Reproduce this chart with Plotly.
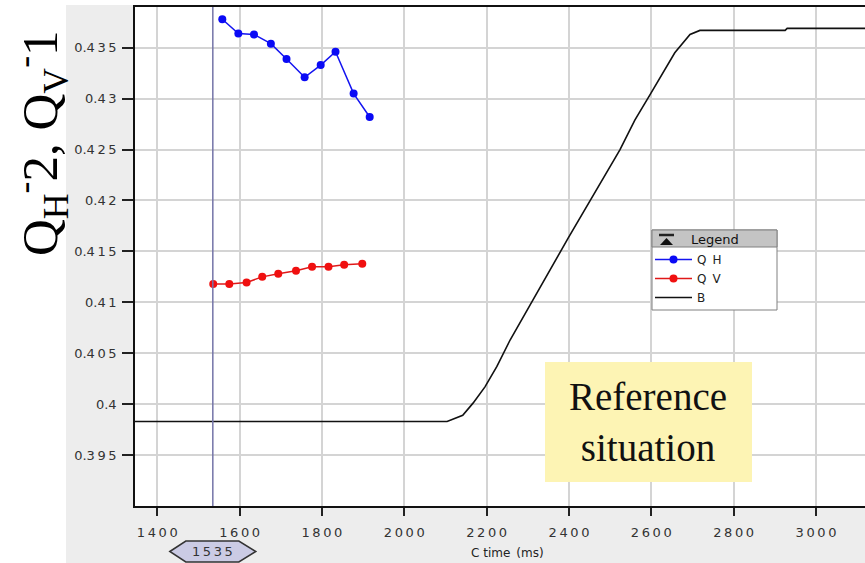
import plotly.graph_objects as go

# Measured series
qh_time = [1558, 1597, 1635, 1676, 1714, 1758, 1797, 1833, 1877, 1916]
qh_val = [0.4378, 0.4364, 0.4363, 0.4354, 0.4339, 0.4321, 0.4333, 0.4346, 0.4305, 0.4282]

qv_time = [1536, 1575, 1617, 1655, 1694, 1737, 1776, 1816, 1854, 1898]
qv_val = [0.4118, 0.4118, 0.41195, 0.4125, 0.4128, 0.4131, 0.4135, 0.4135, 0.4137, 0.4138]

b_time = [1346, 2104, 2142, 2167, 2196, 2225, 2257, 2398, 2524, 2560, 2597, 2657, 2694, 2718, 2925, 2930, 3119]
b_val = [0.3983, 0.3983, 0.3989, 0.4001, 0.4017, 0.4037, 0.4063, 0.4163, 0.4250, 0.4279, 0.4304, 0.4345,
         0.4363, 0.4367, 0.4367, 0.4369, 0.4369]

cursor_time = 1535

x_ticks = [1400, 1600, 1800, 2000, 2200, 2400, 2600, 2800, 3000]
y_ticks = [0.395, 0.4, 0.405, 0.41, 0.415, 0.42, 0.425, 0.43, 0.435]
y_tick_text = ["0.395", "0.4", "0.405", "0.41", "0.415", "0.42", "0.425", "0.43", "0.435"]

W, H = 865, 563
L, R, T, B = 135, 0, 7, 57
PW, PH = W - L - R, H - T - B

THIN = "\u2009"


def spaced(s):
    # the chart's pixel font is letter-spaced; mimic with thin spaces between digits
    out = ""
    for i, ch in enumerate(s):
        out += ch
        if i < len(s) - 1 and ch.isdigit() and s[i + 1].isdigit():
            out += THIN
    return out


def px(x):
    return (x - L) / PW


def py(y):
    return (H - B - y) / PH


tick_font = dict(family="DejaVu Sans", size=13, color="#333333")

fig = go.Figure()
fig.add_trace(go.Scatter(x=qh_time, y=qh_val, name="Q\u2002H", mode="lines+markers",
                         line=dict(color="#1414f0", width=1.5),
                         marker=dict(color="#0a0af5", size=8)))
fig.add_trace(go.Scatter(x=qv_time, y=qv_val, name="Q\u2002V", mode="lines+markers",
                         line=dict(color="#e01818", width=1.5),
                         marker=dict(color="#f01010", size=8)))
fig.add_trace(go.Scatter(x=b_time, y=b_val, name="B", mode="lines",
                         line=dict(color="#111111", width=1.6)))

shapes = [
    # white strips outside the grey panel
    dict(type="rect", xref="paper", yref="paper", x0=px(-5), x1=px(66), y0=py(H + 5), y1=py(-5),
         fillcolor="white", line=dict(width=0), layer="below"),
    dict(type="rect", xref="paper", yref="paper", x0=px(-5), x1=px(W + 5), y0=py(5), y1=py(-5),
         fillcolor="white", line=dict(width=0), layer="below"),
    # cursor line
    dict(type="line", xref="x", yref="paper", x0=cursor_time, x1=cursor_time, y0=0, y1=1,
         line=dict(color="#7474a8", width=1.5), layer="above"),
    # cursor badge
    dict(type="path", xref="x", yref="paper", xsizemode="pixel", ysizemode="pixel",
         xanchor=cursor_time, yanchor=0,
         path="M-43,-45.5 L-27,-35 L26,-35 L43,-45.5 L26,-56 L-27,-56 Z",
         fillcolor="#cbcbe4", line=dict(color="#333333", width=1.5)),
    # legend panel
    dict(type="rect", xref="paper", yref="paper", x0=px(652), x1=px(777), y0=py(310), y1=py(230),
         fillcolor="white", line=dict(color="#808080", width=1), layer="above"),
    dict(type="rect", xref="paper", yref="paper", x0=px(652), x1=px(777), y0=py(247), y1=py(230),
         fillcolor="#c4c4c4", line=dict(color="#808080", width=1), layer="above"),
    dict(type="line", xref="paper", yref="paper", x0=px(659), x1=px(674), y0=py(235), y1=py(235),
         line=dict(color="#222222", width=2.5), layer="above"),
    dict(type="path", xref="paper", yref="paper",
         path=f"M{px(660)},{py(245)} L{px(673)},{py(245)} L{px(666.5)},{py(238)} Z",
         fillcolor="#111111", line=dict(width=0), layer="above"),
    # note box
    dict(type="rect", xref="paper", yref="paper", x0=px(545), x1=px(752), y0=py(482), y1=py(362),
         fillcolor="#fdf4b4", line=dict(width=0), layer="above"),
]

annotations = [
    dict(text="Q<sub>H</sub><sup>-</sup>2, Q<sub>V</sub><sup>-</sup>1", textangle=-90,
         xref="paper", yref="paper", x=px(40), y=py(143), xanchor="center", yanchor="middle",
         showarrow=False, font=dict(family="Liberation Serif", size=51, color="#000000")),
    dict(text="C time\u2002(ms)", xref="paper", yref="paper", x=px(507), y=py(553),
         xanchor="center", yanchor="middle", showarrow=False,
         font=dict(family="DejaVu Sans", size=12, color="#222222")),
    dict(text=spaced(str(cursor_time)), xref="x", yref="paper", x=cursor_time, y=py(551),
         xanchor="center", yanchor="middle", showarrow=False,
         font=dict(family="DejaVu Sans", size=13, color="#333333")),
    dict(text="Legend", xref="paper", yref="paper", x=px(715), y=py(239),
         xanchor="center", yanchor="middle", showarrow=False,
         font=dict(family="DejaVu Sans", size=13, color="#111111")),
    dict(text="Reference<br>situation", xref="paper", yref="paper", x=px(648), y=py(422),
         xanchor="center", yanchor="middle", showarrow=False, align="center",
         font=dict(family="Liberation Serif", size=39, color="#111111")),
]

fig.update_layout(
    width=W, height=H,
    margin=dict(l=L, r=R, t=T, b=B, pad=0),
    paper_bgcolor="#ededed",
    plot_bgcolor="white",
    showlegend=True,
    legend=dict(x=px(650), y=py(245), xanchor="left", yanchor="top",
                bgcolor="rgba(0,0,0,0)", borderwidth=0,
                font=dict(family="DejaVu Sans", size=12, color="#222222"),
                tracegroupgap=0, itemwidth=37),
    shapes=shapes,
    annotations=annotations,
)

fig.update_xaxes(range=[1346, 3119], tickvals=x_ticks, ticktext=[spaced(str(v)) for v in x_ticks],
                 ticks="outside", ticklen=8, ticklabelstandoff=6,
                 tickcolor="#222222", tickwidth=1.5, tickfont=tick_font,
                 showline=True, linecolor="#111111", linewidth=1.5, mirror=True,
                 showgrid=True, gridcolor="#d4d4d4", gridwidth=1.5, zeroline=False)
fig.update_yaxes(range=[0.39, 0.439], tickvals=y_ticks, ticktext=[spaced(t) for t in y_tick_text],
                 ticks="outside", ticklen=11, ticklabelstandoff=3,
                 tickcolor="#222222", tickwidth=1.5, tickfont=tick_font,
                 showline=True, linecolor="#111111", linewidth=1.5, mirror=False,
                 showgrid=True, gridcolor="#d4d4d4", gridwidth=1.5, zeroline=False)

fig.write_html("out.html")
